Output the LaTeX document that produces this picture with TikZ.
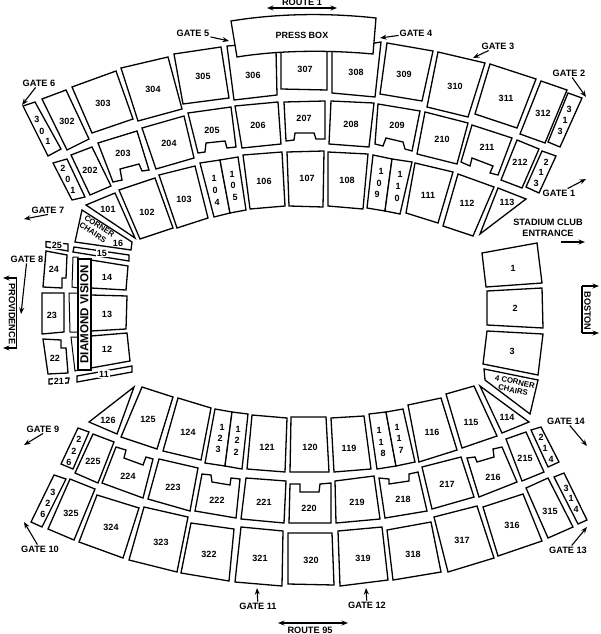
\documentclass[tikz,border=0pt]{standalone}
\usepackage{fontspec}
\setmainfont{Liberation Sans}
\usetikzlibrary{arrows.meta}

\begin{document}
\begin{tikzpicture}[
        x=1pt, y=-1pt,
        >=Stealth,
        font=\fontsize{9}{10}\bfseries\selectfont,
        sec/.style={draw, line width=1.3pt, fill=white, line join=miter},
        num/.style={inner sep=0pt, font=\fontsize{9}{10}\bfseries\selectfont},
        numgap/.style={num, fill=white, inner sep=1pt},
        gate/.style={inner sep=1pt, font=\fontsize{9.2}{11}\bfseries\selectfont},
        arrow/.style={line width=1.1pt, -{Stealth[length=6.5pt,width=5pt]}},
        both/.style={line width=1.1pt, {Stealth[length=6.5pt,width=5pt]}-{Stealth[length=6.5pt,width=5pt]}},
        small/.style={inner sep=0pt, font=\fontsize{7.8}{8.8}\bfseries\selectfont}
    ]
        \useasboundingbox (0,0) rectangle (600,634);

        % upper deck, top
        \draw[sec] (23,106) -- (35,102) -- (61,149) -- (48,156) -- cycle;
        \draw[sec] (42,99) -- (66,90) -- (89,139) -- (67,150) -- cycle;
        \draw[sec] (72,87) -- (116,71) -- (133,119) -- (92,133) -- cycle;
        \draw[sec] (121,68) -- (168,57) -- (182,109) -- (138,121) -- cycle;
        \draw[sec] (174,54) -- (221,47) -- (229,98) -- (183,104) -- cycle;
        \draw[sec] (227,46) -- (240,45) -- (276,50) -- (277,95) -- (234,100) -- cycle;
        \draw[sec] (281,50) -- (327,50) -- (327,90) -- (281,89) -- cycle;
        \draw[sec] (332,50) -- (381,42) -- (375,97) -- (332,93) -- cycle;
        \draw[sec] (387,43) -- (433,51) -- (422,101) -- (380,94) -- cycle;
        \draw[sec] (438,52) -- (485,63) -- (468,117) -- (427,107) -- cycle;
        \draw[sec] (490,64) -- (536,79) -- (517,128) -- (475,114) -- cycle;
        \draw[sec] (541,81) -- (567,90) -- (545,143) -- (520,134) -- cycle;
        \draw[sec] (568,93) -- (582,98) -- (560,147) -- (548,142) -- cycle;
        \draw[sec] (231,21) .. controls (280,13) and (330,13) .. (376,18) -- (373,54) .. controls (330,50) and (280,50) .. (237,57) -- cycle;

        % middle deck, top
        \draw[sec] (53,163) -- (67,159) -- (85,197) -- (72,200) -- cycle;
        \draw[sec] (71,155) -- (92,147) -- (111,186) -- (90,195) -- cycle;
        \draw[sec] (98,143) -- (137,131) -- (149,170) -- (142,171) -- (139,164) -- (120,169) -- (122,180) -- (113,182) -- cycle;
        \draw[sec] (142,128) -- (184,116) -- (194,158) -- (156,169) -- cycle;
        \draw[sec] (188,113) -- (231,107) -- (236,147) -- (227,148) -- (225,141) -- (206,143) -- (205,152) -- (198,153) -- cycle;
        \draw[sec] (235,106) -- (278,102) -- (281,144) -- (242,148) -- cycle;
        \draw[sec] (284,102) -- (325,101) -- (325,139) -- (316,139) -- (314,133) -- (295,133) -- (294,140) -- (286,141) -- cycle;
        \draw[sec] (331,101) -- (374,103) -- (369,147) -- (329,144) -- cycle;
        \draw[sec] (378,104) -- (420,111) -- (412,151) -- (405,149) -- (403,142) -- (386,138) -- (383,146) -- (375,144) -- cycle;
        \draw[sec] (425,112) -- (468,123) -- (457,164) -- (417,154) -- cycle;
        \draw[sec] (472,125) -- (512,138) -- (498,175) -- (490,173) -- (493,166) -- (472,158) -- (470,166) -- (461,162) -- cycle;
        \draw[sec] (517,140) -- (539,149) -- (522,188) -- (501,180) -- cycle;
        \draw[sec] (542,151) -- (556,156) -- (539,193) -- (526,187) -- cycle;

        % lower deck, top
        \draw[sec] (86,205) -- (115,193) -- (135,238) -- cycle;
        \draw[sec] (119,190) -- (155,178) -- (173,228) -- (140,239) -- cycle;
        \draw[sec] (159,175) -- (195,166) -- (208,218) -- (177,228) -- cycle;
        \draw[sec] (200,163) -- (220,160) -- (230,213) -- (214,217) -- cycle;
        \draw[sec] (220,160) -- (238,157) -- (246,210) -- (230,213) -- cycle;
        \draw[sec] (243,155) -- (282,152) -- (285,206) -- (250,209) -- cycle;
        \draw[sec] (287,152) -- (324,151) -- (323,207) -- (289,206) -- cycle;
        \draw[sec] (328,152) -- (368,154) -- (363,209) -- (328,206) -- cycle;
        \draw[sec] (373,155) -- (392,159) -- (385,211) -- (367,208) -- cycle;
        \draw[sec] (392,159) -- (412,162) -- (400,214) -- (385,211) -- cycle;
        \draw[sec] (415,163) -- (453,172) -- (438,223) -- (406,213) -- cycle;
        \draw[sec] (458,174) -- (494,187) -- (473,236) -- (443,226) -- cycle;
        \draw[sec] (498,188) -- (526,199) -- (480,234) -- cycle;

        % west end
        \draw[sec] (82,210) -- (132,242) -- (131,250) -- (75,242) -- cycle;
        \draw[sec] (46,241.5) -- (68,244) -- (68,251) -- (46,247) -- cycle;
        \draw[sec] (74,247) -- (129,255) -- (129,261) -- (73,252) -- cycle;
        \draw[sec] (77,376) -- (132,366) -- (132,372) -- (77,382) -- cycle;
        \draw[sec] (49,379) -- (69,378) -- (68,383) -- (49,384) -- cycle;
        \draw[sec] (46,251) -- (67,255) -- (66,278) -- (62,278) -- (62,288) -- (43,287) -- cycle;
        \draw[sec] (42,293) -- (64,293) -- (64,332) -- (42,334) -- cycle;
        \draw[sec] (43,339) -- (61,340) -- (61,348) -- (66,348) -- (68,373) -- (48,374) -- cycle;
        \draw[sec, line width=1pt] (73,257) -- (78,257) -- (78,288) -- (72,287) -- cycle;
        \draw[sec, line width=1pt] (69,293) -- (78,293) -- (78,332) -- (70,332) -- cycle;
        \draw[sec, line width=1pt] (71,337) -- (78,337) -- (78,370) -- (75,371) -- cycle;
        \draw[sec] (91,260) -- (128,266) -- (126,290) -- (91,288) -- cycle;
        \draw[sec] (91,295) -- (127,296) -- (126,329) -- (91,331) -- cycle;
        \draw[sec] (91,336) -- (127,333) -- (130,361) -- (91,368) -- cycle;
        \node[sec, minimum width=111pt, minimum height=13pt, inner sep=0pt, rotate=90, font=\fontsize{11.6}{12}\bfseries\selectfont] (vision) at (84.5,314.5) {DIAMOND VISION};

        % east end
        \draw[sec] (482,253) -- (537,243) -- (542,283) -- (486,287) -- cycle;
        \draw[sec] (487,291) -- (542,288) -- (543,328) -- (487,325) -- cycle;
        \draw[sec] (487,331) -- (543,334) -- (538,375) -- (483,364) -- cycle;
        \draw[sec] (484,369) -- (538,380) -- (530,414) -- (485,380) -- cycle;

        % lower deck, bottom
        \draw[sec] (134,387) -- (89,422) -- (117,434) -- cycle;
        \draw[sec] (142,387) -- (173,397) -- (157,449) -- (121,437) -- cycle;
        \draw[sec] (178,398) -- (211,408) -- (201,460) -- (163,451) -- cycle;
        \draw[sec] (215,409) -- (232,412) -- (225,466) -- (205,463) -- cycle;
        \draw[sec] (232,412) -- (248,414) -- (242,469) -- (225,466) -- cycle;
        \draw[sec] (252,415) -- (287,418) -- (285,472) -- (247,469) -- cycle;
        \draw[sec] (291,417) -- (326,417) -- (329,472) -- (290,472) -- cycle;
        \draw[sec] (331,418) -- (364,416) -- (371,469) -- (334,472) -- cycle;
        \draw[sec] (369,414) -- (386,412) -- (396,466) -- (377,469) -- cycle;
        \draw[sec] (386,412) -- (403,409) -- (415,462) -- (396,466) -- cycle;
        \draw[sec] (408,405) -- (441,398) -- (457,450) -- (419,462) -- cycle;
        \draw[sec] (446,394) -- (474,386) -- (497,436) -- (462,448) -- cycle;
        \draw[sec] (480,386) -- (529,422) -- (502,433) -- cycle;

        % middle deck, bottom
        \draw[sec] (78,428) -- (89,432) -- (73,469) -- (61,464) -- cycle;
        \draw[sec] (93,434) -- (114,442) -- (98,483) -- (75,473) -- cycle;
        \draw[sec] (116,447) -- (126,450) -- (124,458) -- (143,465) -- (146,457) -- (153,459) -- (143,498) -- (102,483) -- cycle;
        \draw[sec] (159,459) -- (198,468) -- (190,511) -- (148,499) -- cycle;
        \draw[sec] (202,474) -- (211,475) -- (212,482) -- (230,485) -- (231,478) -- (240,479) -- (236,518) -- (195,511) -- cycle;
        \draw[sec] (246,478) -- (286,481) -- (284,523) -- (241,519) -- cycle;
        \draw[sec] (290,484) -- (300,484) -- (300,492) -- (319,492) -- (320,484) -- (331,483) -- (331,523) -- (289,523) -- cycle;
        \draw[sec] (335,481) -- (374,476) -- (380,519) -- (336,523) -- cycle;
        \draw[sec] (379,478) -- (389,479) -- (389,484) -- (409,481) -- (409,474) -- (418,472) -- (427,511) -- (385,518) -- cycle;
        \draw[sec] (422,467) -- (461,457) -- (474,497) -- (432,509) -- cycle;
        \draw[sec] (467,458) -- (475,457) -- (477,462) -- (494,457) -- (493,449) -- (502,447) -- (517,482) -- (479,497) -- cycle;
        \draw[sec] (506,439) -- (526,432) -- (544,472) -- (522,481) -- cycle;
        \draw[sec] (531,430) -- (541,427) -- (559,462) -- (548,467) -- cycle;

        % upper deck, bottom
        \draw[sec] (54,475) -- (66,479) -- (42,527) -- (31,522) -- cycle;
        \draw[sec] (70,479) -- (95,489) -- (74,540) -- (48,529) -- cycle;
        \draw[sec] (97,495) -- (139,508) -- (123,558) -- (79,542) -- cycle;
        \draw[sec] (144,507) -- (188,517) -- (177,572) -- (129,560) -- cycle;
        \draw[sec] (191,523) -- (234,529) -- (229,581) -- (181,573) -- cycle;
        \draw[sec] (241,527) -- (283,531) -- (282,586) -- (235,582) -- cycle;
        \draw[sec] (288,533) -- (332,533) -- (334,585) -- (288,584) -- cycle;
        \draw[sec] (338,531) -- (382,527) -- (388,580) -- (340,586) -- cycle;
        \draw[sec] (387,530) -- (431,522) -- (441,572) -- (393,580) -- cycle;
        \draw[sec] (434,517) -- (477,506) -- (494,558) -- (448,572) -- cycle;
        \draw[sec] (483,507) -- (523,494) -- (542,541) -- (498,556) -- cycle;
        \draw[sec] (526,488) -- (548,478) -- (573,527) -- (548,538) -- cycle;
        \draw[sec] (554,477) -- (564,473) -- (587,520) -- (578,524) -- cycle;

        % section numbers
        \foreach \name/\x/\y in {302/67/121, 303/103/103, 304/153/89, 305/203/76, 306/253/75, 307/305/69, 308/356/72, 309/404/74, 310/455/86, 311/506/98, 312/543/113,
            202/90/170, 203/123/153, 204/169/143, 205/212/130, 206/258/125, 207/304/118, 208/351/124, 209/397/125, 210/442/139, 211/487/147, 212/520/162,
            101/108/209, 102/147/212, 103/184/199, 106/264/181, 107/307/178, 108/347/180, 111/428/195, 112/467/203, 113/507/202,
            126/108/420, 125/148/419, 124/188/432, 121/267/447, 120/310/447, 119/349/448, 116/432/432, 115/471/422, 114/507/417,
            225/93/461, 224/128/476, 223/173/487, 222/217/500, 221/264/502, 220/309/508, 219/357/502, 218/403/499, 217/447/484, 216/493/477, 215/525/458,
            325/71/513, 324/111/527, 323/161/542, 322/209/554, 321/260/558, 320/311/560, 319/363/558, 318/413/554, 317/462/540, 316/512/525, 315/550/511,
            14/107/277, 13/107/314, 12/107/349, 24/54/269, 23/52/315, 22/55/358, 1/513/268, 2/515/308, 3/512/351}
            \node[num] (s\name) at (\x,\y) {\name};

        % narrow sections, one digit under the other
        \foreach \name/\da/\db/\dc/\ax/\ay/\bx/\by/\cx/\cy in {
            301/3/0/1/37/119/42/131/48/141, 201/2/0/1/63/168/68/179/73/190,
            104/1/0/4/214/178/215/190/217/202, 105/1/0/5/232/174/233/185/235/197,
            109/1/0/9/381/171/379/183/377/194, 110/1/1/0/400/174/398/186/397/198,
            313/3/1/3/569/109/565/120/560/131, 213/2/1/3/546/162/541/172/536/183,
            123/1/2/3/222/427/220/438/218/449, 122/1/2/2/238/429/237/440/236/452,
            226/2/2/6/79/439/74/451/69/462, 326/3/2/6/53/492/48/503/43/514,
            118/1/1/8/379/430/381/442/383/453, 117/1/1/7/397/427/399/438/401/450,
            214/2/1/4/541/437/545/448/551/459, 314/3/1/4/566/488/571/498/576/509}
        {
            \node[num] (s\name a) at (\ax,\ay) {\da};
            \node[num] (s\name b) at (\bx,\by) {\db};
            \node[num] (s\name c) at (\cx,\cy) {\dc};
        }

        % labels set into the outline
        \node[numgap] (s25) at (57,245) {25};
        \node[numgap] (s15) at (102,253) {15};
        \node[numgap] (s11) at (104,374) {11};
        \node[numgap] (s21) at (59,381) {21};

        \node[num] (press) at (302,35) {PRESS BOX};
        \node[small, rotate=-33, align=left] (corner) at (97,230) {CORNER\\CHAIRS};
        \node[num] (s16) at (118,243) {16};
        \node[small, rotate=-12, align=center] (corner4) at (514,386) {4 CORNER\\CHAIRS};

        % gates
        \node[gate] (g1) at (559,193) {GATE 1};
        \node[gate] (g2) at (569,73) {GATE 2};
        \node[gate] (g3) at (498,46) {GATE 3};
        \node[gate] (g4) at (416,33) {GATE 4};
        \node[gate] (g5) at (193,33) {GATE 5};
        \node[gate] (g6) at (39,83) {GATE 6};
        \node[gate] (g7) at (48,210) {GATE 7};
        \node[gate] (g8) at (27,259) {GATE 8};
        \node[gate] (g9) at (43,429) {GATE 9};
        \node[gate] (g10) at (40,549) {GATE 10};
        \node[gate] (g11) at (258,606) {GATE 11};
        \node[gate] (g12) at (367,605) {GATE 12};
        \node[gate] (g13) at (568,550) {GATE 13};
        \node[gate] (g14) at (566,421) {GATE 14};
        \foreach \g/\x/\y in {g1/586/179, g2/586/97, g3/473/58, g4/380/38, g5/229/41, g6/22/105, g7/24/219, g8/21/314, g9/24/445, g10/24/522, g11/257/588, g12/366/588, g13/587/527, g14/587/446}
            \coordinate (\g t) at (\x,\y);
        \foreach \g in {g1, g2, g3, g4, g5, g6, g8, g10, g11, g12, g13, g14}
            \draw[arrow] (\g) -- (\g t);
        \draw[arrow] (g7.south) -- (g7t);
        \draw[arrow] (g9.south) -- (g9t);

        % roads
        \node[gate, anchor=base] (route1) at (302,6) {ROUTE 1};
        \coordinate (r1a) at (267,8);
        \coordinate (r1b) at (337,8);
        \draw[both] (r1a) -- (r1b);
        \node[gate] (route95) at (310,630) {ROUTE 95};
        \coordinate (r95a) at (278,623);
        \coordinate (r95b) at (348,623);
        \draw[both] (r95a) -- (r95b);
        \node[gate, align=center] (entrance) at (548,227.5) {STADIUM CLUB\\ENTRANCE};
        \coordinate (enta) at (561,242);
        \coordinate (entb) at (585,242);
        \draw[arrow] (enta) -- (entb);
        \node[gate, rotate=-90] (prov) at (12,314) {PROVIDENCE};
        \coordinate (pa) at (3,278);
        \coordinate (pb) at (16.5,278);
        \coordinate (pc) at (16.5,348);
        \coordinate (pd) at (3,348);
        \draw[arrow] (pb) -- (pa);
        \draw[arrow] (pc) -- (pd);
        \draw[line width=1.1pt] (pb) -- (pc);
        \node[gate, rotate=-90] (boston) at (587.5,311) {BOSTON};
        \coordinate (ba) at (582,286);
        \coordinate (bb) at (599,286);
        \coordinate (bc) at (582,333);
        \coordinate (bd) at (599,333);
        \draw[arrow] (ba) -- (bb);
        \draw[arrow] (bc) -- (bd);
        \draw[line width=1.1pt] (ba) -- (bc);
    \end{tikzpicture}
\end{document}
